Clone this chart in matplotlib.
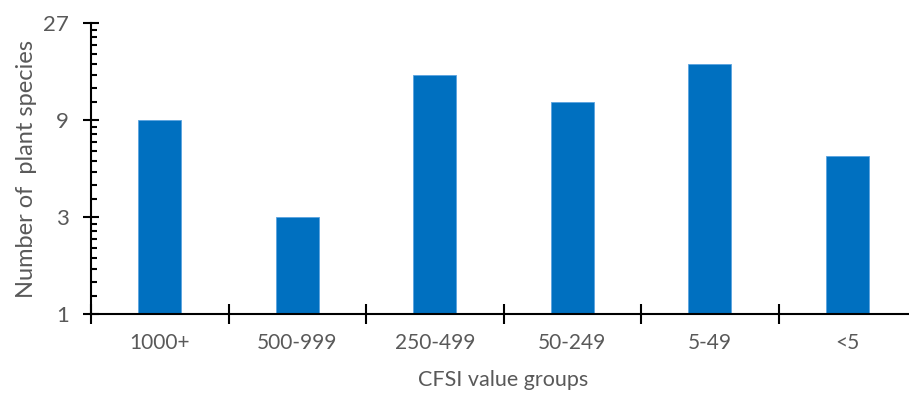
import numpy as np
import matplotlib.pyplot as plt
from matplotlib.ticker import FixedLocator, NullFormatter

# CFSI value groups and number of plant species in each (log base-3 axis)
groups = ['1000+', '500-999', '250-499', '50-249', '5-49', '<5']
species = [9, 3, 15, 11, 17, 6]
y_ticks = [1, 3, 9, 27]

plt.rcParams['font.family'] = ['Lato', 'DejaVu Sans']
text_col = '#595959'

fig = plt.figure(figsize=(9.09, 3.95), dpi=100)
ax = fig.add_axes([91 / 909, 81 / 395, 825 / 909, 291 / 395])

x = np.arange(len(groups))
heights = [v - 1 for v in species]  # bars rise from 1 on the log axis
ax.bar(x, heights, width=0.31, bottom=1, color='#0070C0', edgecolor='#5BA3E0',
       linewidth=0.6, zorder=2)

ax.set_yscale('log', base=3)
ax.set_ylim(1, 27)
ax.set_xlim(-0.5, len(groups) - 0.5)

ax.yaxis.set_major_locator(FixedLocator(y_ticks))
ax.set_yticklabels([str(t) for t in y_ticks])
# Excel-style minor ticks: nine equal steps between majors
minors = []
for lo, hi in zip(y_ticks[:-1], y_ticks[1:]):
    minors += [lo + k * (hi - lo) / 9 for k in range(1, 9)]
ax.yaxis.set_minor_locator(FixedLocator(minors))
ax.yaxis.set_minor_formatter(NullFormatter())

ax.set_xticks(np.arange(len(groups)) - 0.5)
ax.set_xticklabels([])
ax.set_xticks(x, labels=groups, minor=True)

for s in ['top', 'right']:
    ax.spines[s].set_visible(False)
for s in ['left', 'bottom']:
    ax.spines[s].set_linewidth(1.5)

ax.tick_params(axis='y', which='major', direction='inout', length=12, width=1.5,
               labelsize=16, labelcolor=text_col, pad=10)
ax.tick_params(axis='y', which='minor', direction='in', length=4, width=1.5)
ax.tick_params(axis='x', which='major', direction='inout', length=14, width=1.5)
ax.tick_params(axis='x', which='minor', direction='in', length=4, width=1.5,
               labelsize=15, labelcolor=text_col, pad=14)

ax.set_xlabel('CFSI value groups', fontsize=15.5, color=text_col, labelpad=12)
ax.set_ylabel('Number of  plant species', fontsize=17, color=text_col, labelpad=4)

plt.savefig('out.png', dpi=100)
